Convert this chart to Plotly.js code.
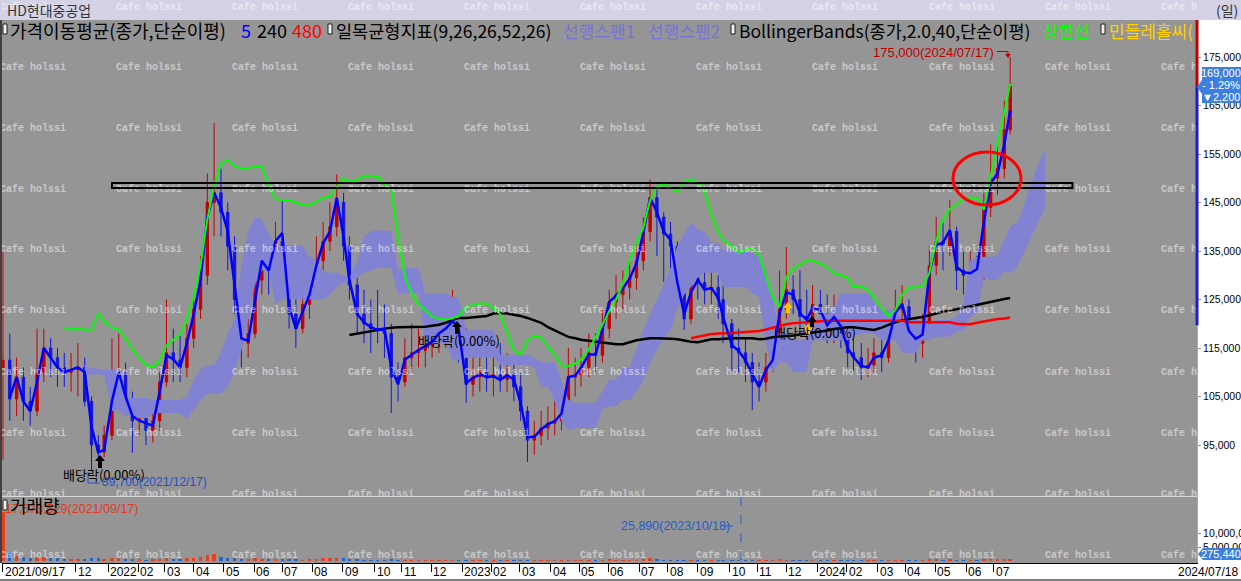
<!DOCTYPE html>
<html><head><meta charset="utf-8">
<script src="https://cdn.plot.ly/plotly-3.0.1.min.js"></script>
<style>html,body{margin:0;padding:0;background:#fff;}#chart{width:1241px;height:581px;}</style>
</head><body><div id="chart"></div>
<script>
// ---------------- DATA (weekly) ----------------
const weekDates = [
'2021-09-17','2021-09-24','2021-10-01','2021-10-08','2021-10-15','2021-10-22','2021-10-29','2021-11-05','2021-11-12','2021-11-19','2021-11-26','2021-12-03','2021-12-10','2021-12-17','2021-12-24','2021-12-30',
'2022-01-07','2022-01-14','2022-01-21','2022-01-28','2022-02-04','2022-02-11','2022-02-18','2022-02-25','2022-03-04','2022-03-11','2022-03-18','2022-03-25','2022-04-01','2022-04-08','2022-04-15','2022-04-22','2022-04-29','2022-05-06','2022-05-13','2022-05-20','2022-05-27','2022-06-03','2022-06-10','2022-06-17','2022-06-24','2022-07-01','2022-07-08','2022-07-15','2022-07-22','2022-07-29','2022-08-05','2022-08-12','2022-08-19','2022-08-26','2022-09-02','2022-09-08','2022-09-16','2022-09-23','2022-09-30','2022-10-07','2022-10-14','2022-10-21','2022-10-28','2022-11-04','2022-11-11','2022-11-18','2022-11-25','2022-12-02','2022-12-09','2022-12-16','2022-12-23','2022-12-29',
'2023-01-06','2023-01-13','2023-01-20','2023-01-27','2023-02-03','2023-02-10','2023-02-17','2023-02-24','2023-03-03','2023-03-10','2023-03-17','2023-03-24','2023-03-31','2023-04-07','2023-04-14','2023-04-21','2023-04-28','2023-05-04','2023-05-12','2023-05-19','2023-05-26','2023-06-02','2023-06-09','2023-06-16','2023-06-23','2023-06-30','2023-07-07','2023-07-14','2023-07-21','2023-07-28','2023-08-04','2023-08-11','2023-08-18','2023-08-25','2023-09-01','2023-09-08','2023-09-15','2023-09-22','2023-09-27','2023-10-06','2023-10-13','2023-10-20','2023-10-27','2023-11-03','2023-11-10','2023-11-17','2023-11-24','2023-12-01','2023-12-08','2023-12-15','2023-12-22','2023-12-28',
'2024-01-05','2024-01-12','2024-01-19','2024-01-26','2024-02-02','2024-02-08','2024-02-16','2024-02-23','2024-02-29','2024-03-08','2024-03-15','2024-03-22','2024-03-29','2024-04-05','2024-04-12','2024-04-19','2024-04-26','2024-05-03','2024-05-10','2024-05-17','2024-05-24','2024-05-31','2024-06-07','2024-06-14','2024-06-21','2024-06-28','2024-07-05','2024-07-12','2024-07-18'];
const futureDates = ['2024-07-26','2024-08-02','2024-08-09','2024-08-16','2024-08-23'];

const openP = [
111000,112500,104500,109000,104000,102000,110000,115000,113000,111000,110000,110500,111000,104000,95000,93500,
97000,108000,110000,104000, 100000,100500,98000,100000, 108000,114000,112500,111000, 117000,123000,130000,145000,147000, 143000,136000,125000,116000, 118000,129000,133000,131000, 137000,134000,122000,119000,124000, 127000,133000,137000,140000, 145000,136000,128000,122000,120000, 119000,118500,118000,109000, 108000,113000,114000,114500, 115500,116500,118000,119500,121000,
118000,107500,109000,110000, 109000,109500,108500,109500, 107000,102000,96000,97000,98500, 99500,100000,103000,109000, 109500,111000,114000,113500, 119000,124500,126000,127500,129500, 133000,139000,146000,142000, 138500,136000,127000,121000, 129500,128500,127000,127500,125000, 120000,115000,114000,112000, 108000,108000,111000,114000, 123000,127000,125000,121500,121000,
124000,122000,119000,122000, 119000,114000,113000,111000,111500, 114000,113000,118000,123000, 123500,118000,116000,119000, 132000,137000,136000,139000,131000, 130000,131000,130000,144000, 150000,152000,160000];
const highP = [
135000,118000,113000,111000,107000,119000,119000,117000,115000,114000,114000,116000,113000,105000,97000,99000,
117000,118000,112000,106000, 103000,104000,103000,110000, 125000,119000,118000,120000, 126000,134000,151000,161400,152000, 145000,138000,126000,121000, 134000,140000,135000,141000, 145500,135000,127000,129000,133000, 138000,141000,145000,150800, 147000,138000,131000,127000,125000, 127000,124000,120000,112000, 117000,120000,119000,121000, 122000,123000,125000,127000,122000,
119000,115000,114000,115000, 114000,116000,114000,112000, 110000,103000,100000,102000,103000, 104000,107000,115000,113000, 115000,118000,118000,123000, 127000,130000,131000,133000,137000, 142000,149700,148000,143000, 141000,137000,129000,135000, 135000,134000,133000,130000,128000, 121000,119000,117000,114000, 112000,114000,119000,131000, 135800,130000,131000,127000,128000,
127000,126000,126000,124000, 121000,117000,116000,115000,117000, 118000,121000,127000,128000, 125000,121000,122000,136000, 142000,141000,145500,140000,136000, 135000,134000,147000,157000, 158000,166000,175000];
const lowP = [
92000,100000,101000,100000,99000,101000,108000,109000,107000,107000,106000,105000,103000,89700,92000,92500,
96000,105000,101000,93400, 97000,95000,95500,98000, 107000,108000,108000,109000, 115000,121000,128000,138000,138000, 131000,122000,111000,113000, 117000,126000,126000,130000, 130000,119000,115000,118000,121000, 125000,131000,135000,138000, 133000,125000,118000,116000,114000, 116000,113000,101600,104000, 107000,110000,111000,111000, 113000,114000,115000,117000,112000,
103700,105000,106000,106000, 105000,106000,106000,104000, 100000,91500,93000,95000,96000, 97000,98000,102000,105000, 107000,109000,110000,112000, 117000,121000,123000,125000,127000, 131000,137000,134000,128600, 131000,124000,118700,120000, 125000,124000,124000,121000,116000, 110000,110000,108000,102200, 104000,106000,110000,113000, 121000,122000,118000,117000,119000,
119000,116000,116000,115000, 111000,110000,108400,109000,110000, 110000,112000,117000,119000, 114000,112000,113000,118000, 130000,131000,134000,127000,126000, 125000,126000,129000,142000, 146500,150000,159000];
const closeP = [
112500,104500,109000,104000,102000,110000,115000,113000,111000,110000,110500,111000,104000,95000,93500,97000,
108000,110000,104000,100000, 100500,98000,100000,108000, 114000,112500,111000,117000, 123000,130000,145000,147000,143000, 136000,125000,116000,118000, 129000,133000,131000,137000, 134000,122000,119000,124000,127000, 133000,137000,140000,145000, 136000,128000,122000,120000,119000, 118500,118000,109000,108000, 113000,114000,114500,115500, 116500,118000,119500,121000,118000,
107500,109000,110000,109000, 109500,108500,109500,107000, 102000,96000,97000,98500,99500, 100000,103000,109000,109500, 111000,114000,113500,119000, 124500,126000,127500,129500,133000, 139000,146000,142000,138500, 136000,127000,121000,129500, 128500,127000,127500,125000,120000, 115000,114000,112000,108000, 108000,111000,114000,123000, 127000,125000,121500,121000,124000,
122000,119000,122000,119000, 114000,113000,111000,111500,114000, 113000,118000,123000,123500, 118000,116000,119000,132000, 137000,136000,139000,131000,130000, 131000,130000,144000,150000, 152000,160000,169000];
const ma5 = [
null,104800,109000,104000,102000,108000,115000,113000,111000,110000,110500,111000,110000,98700,93500,94000,
104000,110000,105000,101000, 100000,99500,99000,106000, 113500,112700,111000,116000, 122000,129000,142000,147000,144000, 139000,127600,117000,116500, 124500,133000,131000,137000, 138700,123500,119000,122500,126000, 132000,136600,139000,146000, 138000,129000,122000,120300,119300, 118700,119000,111000,107500, 112600,113600,114600,115400, 116300,118000,119000,120500,119300,
107800,108800,109600,109000, 109200,108400,109400,108500, 103600,96600,96700,98200,99300, 99900,101500,109000,109300, 110900,113700,113600,118800, 124500,125800,127300,129300,132500, 138700,146000,143000,139000, 137300,128500,122000,126500, 129000,127000,127400,125300,121400, 115600,114400,112500,109600, 107000,110500,112500,122200, 126500,126000,122200,120800,123300,
122800,119700,121400,119500, 115000,113100,111300,111000,113000, 113500,116600,122200,124100, 118500,116900,117800,130500, 136200,136700,139300,131700,130600, 130400,131300,141000,149000, 151000,157000,164000];
const ma240 = [
null,null,null,null,null,null,null,null,null,null,null,null,null,null,null,null,
null,null,null,null, null,null,null,null, null,null,null,null, null,null,null,null,null, null,null,null,null, null,null,null,null, null,null,null,null,null, null,null,null,null, null,117700,118000,118200,118500, 118800,119000,119200,119300, 119300,119300,119300,119400, 119600,119800,120200,120800,121200,
121200,121300,121400,121600, 122100,122200,122100,121900, 121600,121200,120700,120200,119300, 118600,118000,117300,117000, 116700,116500,116300,116100, 116000,115800,115800,116200,116600, 116800,117000,117000,117000, 116900,116800,116500,116300, 116200,116500,116800,116800,116900, 117000,117000,117000,117000, 116800,116900,117200,117400, 117500,117600,117800,118000,118100,
118300,118600,118900,119100, 119300,119300,119100,118900,118700, 119200,119800,120300,120700, 121000,121200,121400,121700, 122100,122500,122700,123000,123300, 123600,124000,124200,124500, 124800,125100,125300];
const ma480 = [
null,null,null,null,null,null,null,null,null,null,null,null,null,null,null,null,
null,null,null,null, null,null,null,null, null,null,null,null, null,null,null,null,null, null,null,null,null, null,null,null,null, null,null,null,null,null, null,null,null,null, null,null,null,null,null, null,null,null,null, null,null,null,null, null,null,null,null,null,
null,null,null,null, null,null,null,null, null,null,null,null,null, null,null,null,null, null,null,null,null, null,null,null,null,null, null,null,null,null, null,null,null,117000, 117300,117600,117900,118000,118000, 118100,118200,118300,118400, 118500,118800,119200,119600, 119900,120100,120200,120400,120500,
120600,120600,120600,120600, 120600,120600,120600,120600,120600, 120600,120600,120600,120600, 120300,120300,120300,120300, 120300,120300,120300,120000,119900, 119900,120200,120500,120800, 121000,121100,121300];
const bbUpper = [
null,null,null,null,null,null,null,null,null,119000,118800,118900,118800,118700,122200,120500,
119200,118800,117000,114800, 113000,111500,111000,112500, 115500,116600,117700,121000, 125500,132000,141500,148500,153000, 153800,152500,152000,152100, 152400,152500,148500,145700, 145500,145500,145000,144500,144400, 145200,146000,146200,148300, 150000,149300,149700,150500,150500, 150300,148800,147600,138000, 129700,126300,124000,122800, 121500,121000,120900,121200,121500,
123500,123900,124200,124200, 123200,122000,118300,114500, 113600,116500,117500,117200,115300, 113600,111400,111300,111800, 112600,114700,117200,119800, 122600,125000,128300,133200,136700, 139700,145500,148200,148800, 148000,147200,149300,149800, 149100,147300,142500,139000,137300, 136000,134700,135300,135600, 134200,129800,125500,123500, 129600,131400,132200,133000,133000,
132400,131700,130400,130000, 129400,127600,127600,127000,125500, 123200,121600,122800,126000, 127500,127500,127600,130500, 137000,141500,143600,144600,145800, 146000,146000,143500,150800, 157300,163500,169500];
// Ichimoku leading spans (upper / lower edge of the cloud), shifted 26 days ahead
const leadSpan1 = [
null,null,null,null,null,null,null,null,null,null,null,null,111500,110900,110700,110500,
110500,110500,104700,104700, 104700,104700,104300,104300, 104300,104300,104300,105000, 108400,110500,111500,111500,114000, 118000,121000,132000,139000, 142000,141500,138500,136000, 136000,136200,136200,136200,133800, 133000,131000,130500,130500, 130000,129500,133000,138000,139000, 139300,139300,139000,131000, 131500,131500,131500,126300, 126300,126300,126300,125500,125500,
118700,118700,118700,118700, 118700,113600,113600,113600, 113600,113600,113000,112000,112000, 112000,108400,104300,103700, 103700,103700,103700,106000, 108500,108500,111000,111000,115000, 118700,122000,125000,128000, 131500,136000,138500,140800, 139500,139000,136600,136600,135200, 135000,135000,135000,134600, 134000,131000,125000,118000, 118000,116600,116600,117000,119500,
122000,122000,123500,126300, 126300,126300,126300,126300,124500, 122800,122800,122800,120800, 120800,120800,120200,120000, 120800,120800,120800,121500,124500, 133000,133800,133800,133800, 134000,137300,140000,
141000,145000,149000,153000,156000];
const leadSpan2 = [
null,null,null,null,null,null,null,null,null,null,null,null,109500,109600,109600,109400,
102000,102200,101000,101000, 100500,100500,101500,101600, 101600,101600,101600,100200, 102200,104300,105500,105500,105500, 107000,110000,114500,121500, 128000,131000,131000,124000, 125000,125000,125000,125000,125000, 125000,125000,126000,127600, 128500,129000,129500,130500,131000, 131500,131500,131500,126000, 126300,126300,126300,116000, 116000,116000,116000,112500,112500,
113000,113000,113000,113000, 113000,111500,111500,111500, 111500,111500,111000,107000,107000, 104000,100000,98000,98500, 98500,98500,98500,102500, 103000,103000,104300,104300,106000, 108400,112000,114600,117000, 118700,123000,126000,127600, 129500,130500,130500,130500,127600, 127600,127600,127600,126300, 125500,116000,110000,112000, 112000,110000,110000,110000,116600,
116600,116600,116600,116600, 116600,117500,118000,118000,118000, 116600,116600,116600,114000, 114000,114000,116600,116600, 117300,117300,117300,118500,118500, 121500,122200,129500,129000, 129000,131000,130500,
132000,135000,138000,141000,144000];
const volume = [
17573529,3200000,1800000,1500000,1200000,1600000,1300000,1000000,900000,800000,700000,800000,700000,1200000,900000,600000,
1100000,900000,700000,600000, 600000,500000,600000,700000, 900000,800000,700000,1000000, 1200000,1500000,2200000,2400000,1400000, 1000000,900000,800000,700000, 900000,800000,600000,700000, 700000,800000,600000,500000,600000, 800000,900000,900000,1100000, 900000,700000,600000,500000,500000, 500000,500000,600000,500000, 400000,400000,400000,400000, 400000,400000,400000,400000,400000,
450000,350000,300000,300000, 300000,300000,250000,250000, 400000,450000,350000,300000,300000, 300000,300000,500000,400000, 400000,400000,350000,500000, 600000,500000,500000,400000,450000, 700000,900000,700000,500000, 500000,450000,400000,400000, 350000,300000,300000,300000,250000, 250000,200000,200000,250000, 250000,250000,300000,550000, 450000,350000,300000,250000,250000,
250000,250000,250000,250000, 250000,250000,250000,250000,300000, 300000,350000,450000,350000, 350000,300000,350000,700000, 650000,500000,550000,450000,350000, 350000,350000,650000,750000, 650000,850000,800000];
const monthTickDates = ['2021-09-17','2021-12-01','2022-01-03','2022-02-03','2022-03-02','2022-04-01','2022-05-02','2022-06-02','2022-07-01','2022-08-01','2022-09-01','2022-10-04','2022-11-01','2022-12-01','2023-01-02','2023-02-01','2023-03-02','2023-04-03','2023-05-02','2023-06-01','2023-07-03','2023-08-01','2023-09-01','2023-10-04','2023-11-01','2023-12-01','2024-01-02','2024-02-01','2024-03-04','2024-04-01','2024-05-02','2024-06-03','2024-07-01'];
const monthTickLabels = ['2021/09/17','12','2022','02','03','04','05','06','07','08','09','10','11','12','2023','02','03','04','05','06','07','08','09','10','11','12','2024','02','03','04','05','06','07'];
const priceTicks = [95000,105000,115000,125000,135000,145000,155000,165000,175000];

// ---------------- helpers ----------------
const X = x => (x - 2) / 1195;      // pixel -> paper (plot area x 2..1197)
const Y = y => 1 - y / 563;         // pixel -> paper (plot area y 0..563)
function clean(xs, ys){const a=[],b=[];ys.forEach((v,i)=>{if(v!==null&&v!==undefined){a.push(xs[i]);b.push(v);}});return {x:a,y:b};}
const cloudDates = weekDates.concat(futureDates);
const c1 = clean(cloudDates, leadSpan1), c2 = clean(cloudDates, leadSpan2);
const m5 = clean(weekDates, ma5), m240 = clean(weekDates, ma240), m480 = clean(weekDates, ma480), bb = clean(weekDates, bbUpper);
const volColors = closeP.map((c,i)=> c >= openP[i] ? '#e8401e' : '#1e66d0');

const KR = 'Noto Sans CJK KR';
const traces = [
  {type:'scatter', mode:'lines', x:c2.x, y:c2.y, line:{width:0, color:'rgba(0,0,0,0)'}, hoverinfo:'skip', xaxis:'x', yaxis:'y'},
  {type:'scatter', mode:'lines', x:c1.x, y:c1.y, line:{width:0, color:'rgba(0,0,0,0)'}, fill:'tonexty', fillcolor:'#8282d2', hoverinfo:'skip', xaxis:'x', yaxis:'y', name:'선행스팬'},
  {type:'candlestick', x:weekDates, open:openP, high:highP, low:lowP, close:closeP, xaxis:'x', yaxis:'y', whiskerwidth:0,
   increasing:{line:{color:'#c40000', width:1}, fillcolor:'#c40000'}, decreasing:{line:{color:'#1414dc', width:1}, fillcolor:'#1414dc'}, hoverinfo:'skip'},
  {type:'scatter', mode:'lines', x:m240.x, y:m240.y, line:{color:'#000000', width:2.5}, xaxis:'x', yaxis:'y', hoverinfo:'skip'},
  {type:'scatter', mode:'lines', x:m480.x, y:m480.y, line:{color:'#ff0000', width:2.5}, xaxis:'x', yaxis:'y', hoverinfo:'skip'},
  {type:'scatter', mode:'lines', x:m5.x, y:m5.y, line:{color:'#0000ff', width:2.5}, xaxis:'x', yaxis:'y', hoverinfo:'skip'},
  {type:'scatter', mode:'lines', x:bb.x, y:bb.y, line:{color:'#00ff00', width:2}, xaxis:'x', yaxis:'y', hoverinfo:'skip'},
  {type:'bar', x:weekDates, y:volume, marker:{color:volColors, line:{width:0}}, width:3.5*86400000, xaxis:'x', yaxis:'y2', hoverinfo:'skip'}
];
// watermark grid (decoration) on a pixel-space overlay subplot so it is clipped to the chart area
const wmX=[], wmY=[], wmT=[];
[7,67,128,189,249,310,372,433,494,555].forEach(r=>[0,116,232,348,464,580,696,812,929,1045,1161].forEach(c=>{wmX.push(c);wmY.push(r);wmT.push('Cafe holssi');}));
traces.push({type:'scatter', mode:'text', x:wmX, y:wmY, text:wmT, textposition:'middle right', cliponaxis:true,
  textfont:{family:'Liberation Mono', size:10, color:'rgba(255,255,255,0.5)', weight:'bold'}, xaxis:'x3', yaxis:'y3', hoverinfo:'skip'});

// ---------------- shapes ----------------
const shapes = [];
const rectPx = (x0,y0,x1,y1,fill,layer,line)=>({type:'rect', xref:'paper', yref:'paper', x0:X(x0), x1:X(x1), y0:Y(y1), y1:Y(y0), fillcolor:fill, line:line||{width:0}, layer:layer||'above'});
const linePx = (x0,y0,x1,y1,color,width,dash)=>({type:'line', xref:'paper', yref:'paper', x0:X(x0), x1:X(x1), y0:Y(y0), y1:Y(y1), line:{color:color, width:width||1, dash:dash||'solid'}});
const pathPx = (pts, fill, color, width)=>({type:'path', xref:'paper', yref:'paper', path:'M '+pts.map(p=>X(p[0])+','+Y(p[1])).join(' L ')+(fill?' Z':''), fillcolor:fill||'rgba(0,0,0,0)', line:{color:color||'rgba(0,0,0,0)', width:width||0}});
shapes.push(rectPx(2,20,1197,563,'#959595','below'));
shapes.push(rectPx(-2,0,1241,20,'#d4d2e6','below'));
shapes.push(linePx(1,20,1,563,'#404040',2));
shapes.push(linePx(2,496.5,1197,496.5,'#d8d8d8',1));
shapes.push(linePx(-2,580,1241,580,'#000000',1));
// right-edge price bar
shapes.push({type:'rect', xref:'paper', yref:'y', x0:X(1195.5), x1:X(1198.5), y0:169000, y1:182635, fillcolor:'#c00000', line:{width:0}});
shapes.push({type:'rect', xref:'paper', yref:'y', x0:X(1195.5), x1:X(1198.5), y0:119700, y1:169000, fillcolor:'#1c1cc8', line:{width:0}});
// resistance box and highlight ellipse
shapes.push({type:'rect', xref:'x', yref:'y', x0:'2022-01-07', x1:'2024-09-20', y0:147990, y1:149020, line:{color:'#000000', width:2}, fillcolor:'rgba(0,0,0,0)'});
shapes.push({type:'circle', xref:'paper', yref:'paper', x0:X(953), x1:X(1021), y0:Y(205), y1:Y(152), line:{color:'#ff0000', width:3}});
// legend markers
[3,328,731,1101].forEach(x=>shapes.push(rectPx(x,24,x+4,34,'#f2f2f2','above',{color:'#202020',width:1})));
shapes.push(rectPx(3,500,7,510,'#f2f2f2','above',{color:'#202020',width:1}));
// up arrows
const upArrow=(cx,top,bot,col)=>pathPx([[cx,top],[cx+5,top+6],[cx+2,top+6],[cx+2,bot],[cx-2,bot],[cx-2,top+6],[cx-5,top+6]],col);
shapes.push(upArrow(100,455,468,'#000000'));
shapes.push(upArrow(457,321,334,'#000000'));
shapes.push(upArrow(788,302,313,'#ffc000'));
shapes.push(upArrow(808,324,334,'#ffc000'));
shapes.push(upArrow(812,316,327,'#000000'));
// low / high callout leaders
shapes.push(pathPx([[88,472],[88,483],[100,483]],null,'#2050d0',1));
shapes.push(pathPx([[997,51.5],[1008,51.5],[1008,55]],null,'#c00000',1));
shapes.push(pathPx([[1005,54],[1011,54],[1008,58]],'#c00000'));
// volume min leader
shapes.push(linePx(724,526,741,526,'#2060d0',1,'dash'));
shapes.push(linePx(741,497,741,562,'#2060d0',1,'dash'));
// current price / volume boxes on right axis
shapes.push(pathPx([[1197,87],[1202,80],[1202,67],[1241,67],[1241,103],[1202,103],[1202,94]],'#3d7fe0'));
shapes.push(pathPx([[1198,554],[1203,548],[1241,548],[1241,560],[1203,560]],'#3d7fe0'));

// ---------------- annotations ----------------
const ann=(x,y,text,o)=>Object.assign({xref:'paper', yref:'paper', x:X(x), y:Y(y), text:text, showarrow:false, xanchor:'left', yanchor:'middle',
  font:{family:KR, size:18, color:'#000000'}}, o||{});
const annotations = [
  ann(5,10,'HD현대중공업',{font:{family:KR,size:14,color:'#333333'}}),
  ann(1240,10,'(일)',{xanchor:'right',font:{family:KR,size:14,color:'#333333'}}),
  ann(8,30,'가격이동평균(종가,단순이평)'),
  ann(239,30,'5',{font:{family:KR,size:18,color:'#0000ff'}}),
  ann(255,30,'240'),
  ann(290,30,'480',{font:{family:KR,size:18,color:'#ff0000'}}),
  ann(334,30,'일목균형지표(9,26,26,52,26)',{font:{family:KR,size:17.5,color:'#000000'}}),
  ann(561,30,'선행스팬1',{font:{family:KR,size:17,color:'#7474d8'}}),
  ann(646,30,'선행스팬2',{font:{family:KR,size:17,color:'#7474d8'}}),
  ann(737,30,'BollingerBands(종가,2.0,40,단순이평)',{font:{family:KR,size:17.5,color:'#000000'}}),
  ann(1041,30,'상한선',{font:{family:KR,size:17,color:'#00ff00'}}),
  ann(1107,30,'민들레홀씨(',{font:{family:KR,size:17,color:'#ffd200'}}),
  ann(996,52,'175,000(2024/07/17)',{xanchor:'right',font:{family:'Liberation Sans',size:13,color:'#c00000'}}),
  ann(61,474,'배당락(0.00%)',{font:{family:KR,size:13,color:'#000000'}}),
  ann(100,482,'89,700(2021/12/17)',{font:{family:'Liberation Sans',size:12,color:'#2050d0'}}),
  ann(416,340,'배당락(0.00%)',{font:{family:KR,size:13,color:'#000000'}}),
  ann(772,333,'배당락(0.00%)',{font:{family:KR,size:13,color:'#000000'}}),
  ann(3,509,'17,573,529(2021/09/17)',{font:{family:'Liberation Sans',size:12.5,color:'#e03a1a'}}),
  ann(8,505,'거래량'),
  ann(619,526,'25,890(2023/10/18)',{font:{family:'Liberation Sans',size:12.5,color:'#2060d0'}}),
  ann(1221,73,'169,000',{xanchor:'center',font:{family:'Liberation Sans',size:11,color:'#ffffff'}}),
  ann(1221,85,'- 1.29%',{xanchor:'center',font:{family:'Liberation Sans',size:11,color:'#ffffff'}}),
  ann(1221,97,'▼2,200',{xanchor:'center',font:{family:'Liberation Sans',size:11,color:'#ffffff'}}),
  ann(1221,554,'275,440',{xanchor:'center',font:{family:'Liberation Sans',size:11,color:'#ffffff'}}),
  ann(1240,572,'2024/07/18',{xanchor:'right',font:{family:'Liberation Sans',size:12,color:'#000000'}})
];
// date labels, left-aligned just right of their tick marks
monthTickDates.forEach((d,i)=>annotations.push({xref:'x', yref:'paper', x:d, y:Y(572), xanchor:'left', yanchor:'middle', xshift:0,
  text:monthTickLabels[i], showarrow:false, font:{family:'Liberation Sans', size:12, color:'#000000'}}));

const axFont = {family:'Liberation Sans', size:10.5, color:'#000000'};
const layout = {
  width:1241, height:581, margin:{l:2, r:44, t:0, b:18, pad:0},
  paper_bgcolor:'#ffffff', plot_bgcolor:'rgba(0,0,0,0)', showlegend:false,
  xaxis:{type:'date', domain:[0,1], anchor:'y2', range:['2021-09-16','2025-01-26'], tickmode:'array', tickvals:monthTickDates,
         showticklabels:false, ticks:'outside', ticklen:8, tickcolor:'#000000', tickwidth:1,
         showline:true, linecolor:'#000000', linewidth:1, showgrid:false, zeroline:false, rangeslider:{visible:false}, fixedrange:true},
  yaxis:{domain:[1-497/563, 1-20/563], anchor:'x', side:'right', range:[84278,182635], tickmode:'array', tickvals:priceTicks, tickformat:',',
         ticks:'outside', ticklen:3, tickcolor:'#909090', showline:true, linecolor:'#a8a8a8', showgrid:false, zeroline:false, tickfont:axFont, fixedrange:true},
  yaxis2:{domain:[0, 1-497/563], anchor:'x', side:'right', range:[-710000,22860000], tickmode:'array', tickvals:[5000000,10000000], ticktext:['5,000,000','10,000,000'],
          ticks:'outside', ticklen:3, tickcolor:'#909090', showline:true, linecolor:'#a8a8a8', showgrid:false, zeroline:false, tickfont:axFont, fixedrange:true},
  xaxis3:{domain:[0,1], anchor:'y3', range:[2,1197], visible:false, fixedrange:true},
  yaxis3:{domain:[0,1], anchor:'x3', range:[563,0], visible:false, fixedrange:true},
  shapes:shapes, annotations:annotations, bargap:0
};
Plotly.newPlot('chart', traces, layout, {staticPlot:true, displayModeBar:false});
</script></body></html>
